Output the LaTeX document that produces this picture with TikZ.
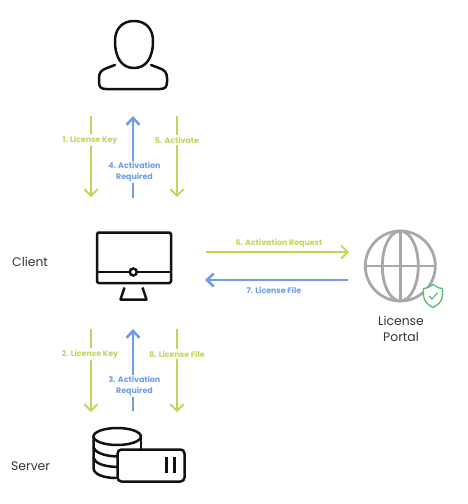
\documentclass[tikz,border=0pt]{standalone}
\usepackage{fontspec}
\setmainfont{Poppins}
\usetikzlibrary{arrows.meta}
\definecolor{lime}{HTML}{C4D35A}
\definecolor{skyb}{HTML}{6E9BEB}
\definecolor{globeg}{HTML}{A8A8A8}
\definecolor{shieldg}{HTML}{55BE6C}
\definecolor{ink}{HTML}{111111}
\tikzset{
  icon/.style={draw=ink,line width=2.5pt,line join=round,line cap=round},
  flowg/.style={draw=lime,line width=1.8pt,-{Straight Barb[length=6.5pt,width=13pt,line width=1.8pt]}},
  flowb/.style={draw=skyb,line width=2.5pt,-{Straight Barb[length=7pt,width=13pt,line width=2.5pt]}},
  lblg/.style={fill=white,text=lime,font=\fontsize{7.9}{9}\selectfont\bfseries,inner sep=1.5pt,align=center},
  lblb/.style={fill=white,text=skyb,font=\fontsize{7.9}{10.5}\selectfont\bfseries,inner sep=1.5pt,align=center},
  roletext/.style={text=ink!85,font=\fontsize{12.4}{16}\selectfont,inner sep=0pt,align=center},
}
\begin{document}
\begin{tikzpicture}[x=1pt,y=-1pt]
\useasboundingbox (0,0) rectangle (468,504);
% user icon
\draw[icon] (134,21) .. controls (122,21) and (115,29) .. (115,41)
  .. controls (115,58) and (122,68) .. (134,68)
  .. controls (146,68) and (153,58) .. (153,41)
  .. controls (153,29) and (146,21) .. (134,21) -- cycle;
\draw[icon] (115,65) -- (107,68) .. controls (101,70) and (99,73) .. (99,78)
  -- (99,82) .. controls (99,87) and (101,89) .. (106,89) -- (160,89)
  .. controls (165,89) and (167,87) .. (167,82) -- (167,78)
  .. controls (167,73) and (165,70) .. (159,68) -- (151,65);
% monitor
\draw[icon,rounded corners=1.5pt] (97,232.5) rectangle (171,283);
\draw[icon] (97,272) -- (129,272) (137.5,272) -- (171,272);
\node[draw=ink,line width=2.5pt,circle,minimum size=7pt,inner sep=0pt] (hub) at (133.3,272) {};
\draw[icon,line cap=butt] (124.5,287.5) -- (120.5,299.5) -- (146.5,299.5) -- (142.5,287.5);
% server
\draw[icon] (93.5,436.5) arc[start angle=180,end angle=360,x radius=23.7,y radius=8.5];
\draw[icon] (93.5,436.5) arc[start angle=180,end angle=0,x radius=23.7,y radius=8.5];
\draw[icon] (93.5,436.5) -- (93.5,468) .. controls (93.5,474) and (103,478) .. (116,478);
\draw[icon] (141,436.5) -- (141,449);
\draw[icon] (93.5,447.5) .. controls (95,452) and (103,456) .. (117,456.5);
\draw[icon] (93.5,458) .. controls (95,463) and (103,466.5) .. (117,467);
\draw[icon,fill=white,rounded corners=4pt] (117.5,449.5) rectangle (184.5,481.5);
\draw[icon,line width=2.6pt,line cap=butt] (166.5,457) -- (166.5,473) (174.5,457) -- (174.5,473);
% globe
\begin{scope}[draw=globeg,line width=2.8pt]
\draw (400.3,266) circle[radius=35];
\draw (400.3,266) ellipse[x radius=18,y radius=35];
\draw (400.3,231) -- (400.3,301);
\draw (365.3,266) -- (435.3,266);
\end{scope}
% shield
\draw[draw=shieldg,line width=1.3pt,fill=white,line join=round] (433,284.5) .. controls (428,288) and (426,288.5) .. (423.5,288.5)
  -- (423.5,295) .. controls (423.5,301) and (428,305) .. (433,307.5)
  .. controls (438,305) and (442.5,301) .. (442.5,295) -- (442.5,288.5)
  .. controls (440,288.5) and (438,288) .. (433,284.5) -- cycle;
\draw[draw=shieldg,line width=1.1pt] (429,296) -- (432,299) -- (437.5,292.5);
% end points
\coordinate (a1s) at (91,116); \coordinate (a1e) at (91,197);
\coordinate (a4s) at (133,198); \coordinate (a4e) at (133,116);
\coordinate (a5s) at (177,116); \coordinate (a5e) at (177,197);
\coordinate (a2s) at (91,329); \coordinate (a2e) at (91,412);
\coordinate (a3s) at (133,411); \coordinate (a3e) at (133,329);
\coordinate (a8s) at (177,329); \coordinate (a8e) at (177,412);
\coordinate (a6s) at (206,252); \coordinate (a6e) at (349,252);
\coordinate (a7s) at (348,280); \coordinate (a7e) at (205,280);
% arrows
\draw[flowg] (a1s) -- (a1e);
\draw[flowb] (a4s) -- (a4e);
\draw[flowg] (a5s) -- (a5e);
\draw[flowg] (a2s) -- (a2e);
\draw[flowb] (a3s) -- (a3e);
\draw[flowg] (a8s) -- (a8e);
\draw[flowg] (a6s) -- (a6e);
\draw[flowb] (a7s) -- (a7e);
% labels
\node[lblg] (l1) at (90,140) {1. License Key};
\node[lblb] (l4) at (134.5,172) {4. Activation\\Required};
\node[lblg] (l5) at (177,140) {5. Activate};
\node[lblg] (l2) at (90,354) {2. License Key};
\node[lblb] (l3) at (134.5,386) {3. Activation\\Required};
\node[lblg] (l8) at (177,354) {8. License File};
\node[lblg,fill=none] (l6) at (279,243) {6. Activation Request};
\node[lblb,fill=none] (l7) at (274,290) {7. License File};
% names
\node[roletext,anchor=west] (client) at (12,262) {Client};
\node[roletext,anchor=west] (server) at (11,466) {Server};
\node[roletext] (portal) at (401,329) {License\\Portal};
\end{tikzpicture}
\end{document}
